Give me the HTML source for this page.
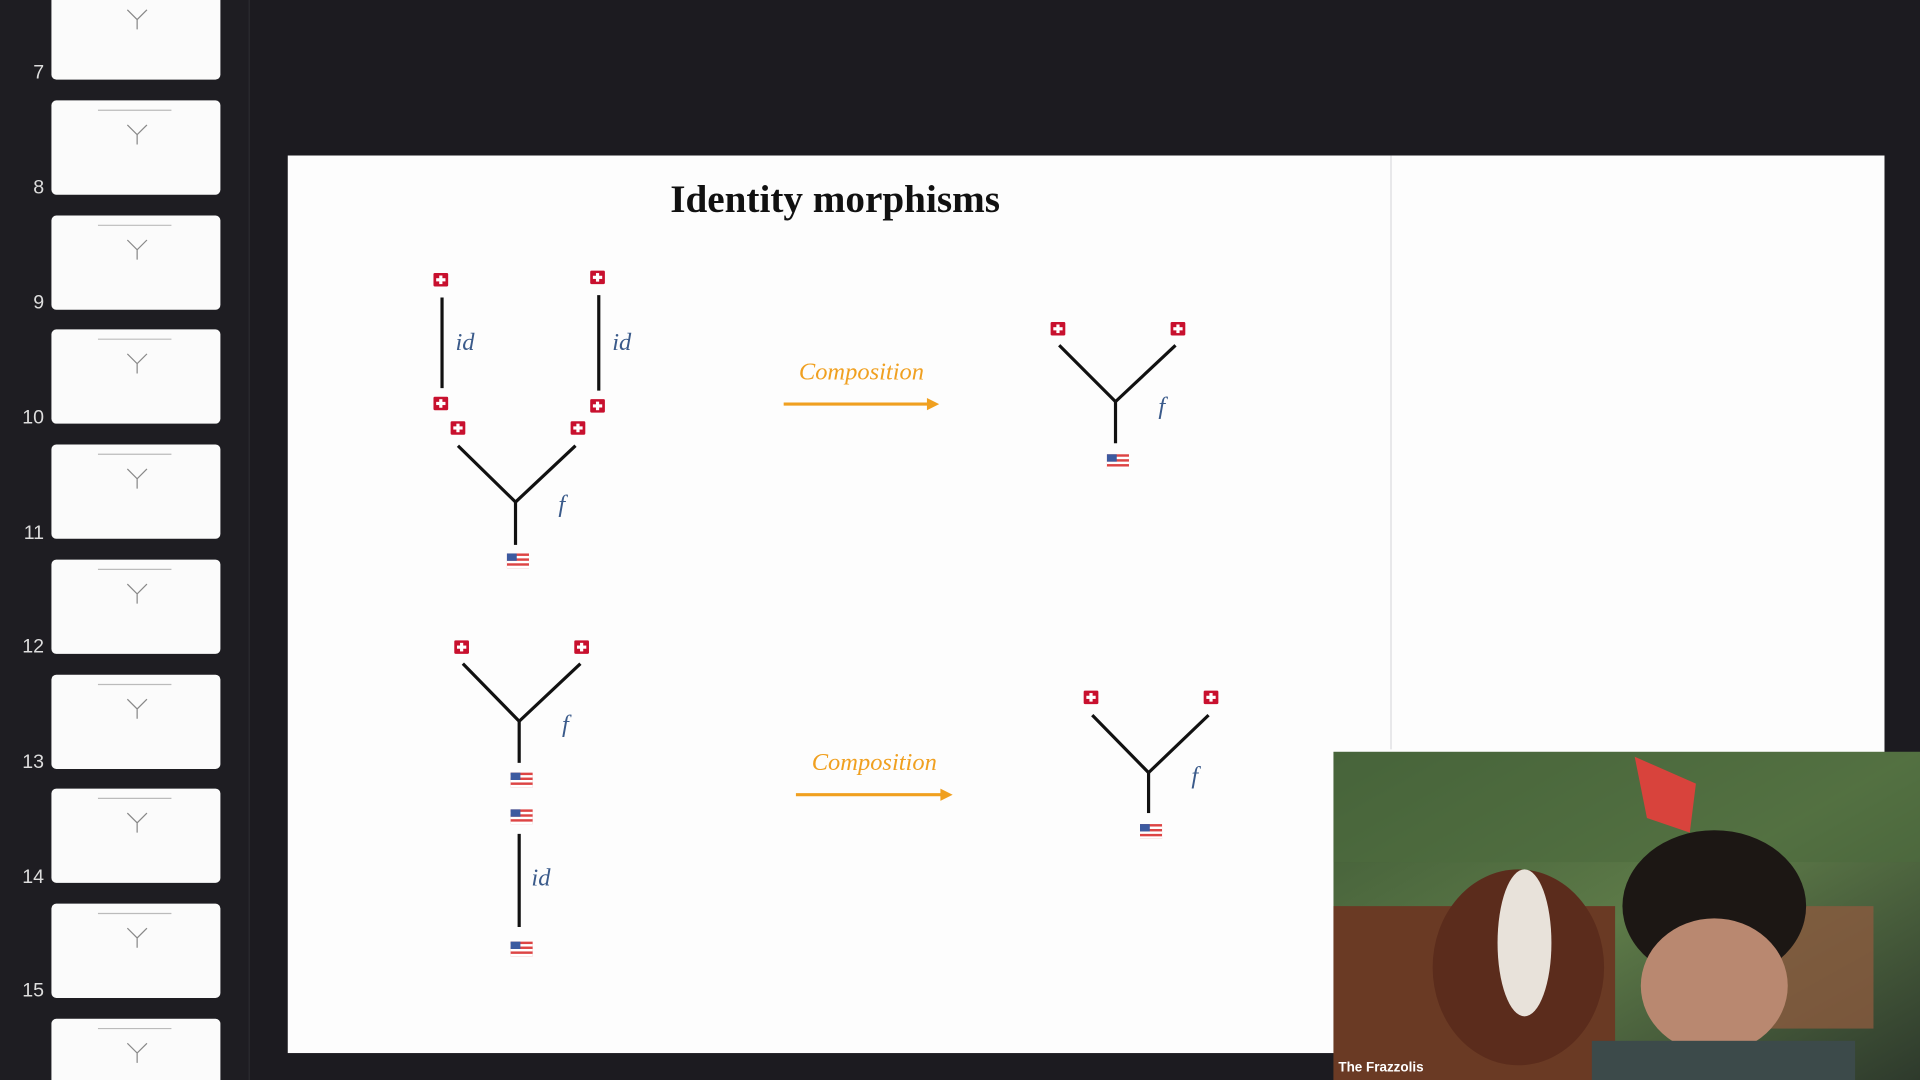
<!DOCTYPE html>
<html><head><meta charset="utf-8"><style>
html,body{margin:0;padding:0;background:#1c1b20;overflow:hidden}
svg{display:block}
</style></head><body>
<svg id="s" width="1920" height="1080" viewBox="0 0 1568 882" xmlns="http://www.w3.org/2000/svg">
<defs>
<linearGradient id="cam" x1="0" y1="0" x2="1" y2="1">
<stop offset="0" stop-color="#3f5a36"/><stop offset="0.5" stop-color="#5d7a48"/><stop offset="1" stop-color="#2e3a2c"/>
</linearGradient>
</defs>
<rect x="0" y="0" width="1568" height="882" fill="#1c1b20"/>
<rect x="0" y="0" width="203" height="882" fill="#1e1d22"/>
<line x1="203.5" y1="0" x2="203.5" y2="882" stroke="#2c2b30" stroke-width="1"/>
<g id="thumbs"></g>
<rect x="235" y="127" width="1304" height="733" fill="#fdfdfd"/>
<line x1="1136" y1="127" x2="1136" y2="612" stroke="#e6e6e8" stroke-width="1.5"/>
<text x="682" y="173" text-anchor="middle" font-family="Liberation Serif, serif" font-weight="bold" font-size="32" fill="#111">Identity morphisms</text>
<g id="diag"></g>
<g>
<rect x="1089" y="614" width="479" height="268" fill="url(#cam)"/>
<rect x="1089" y="614" width="479" height="90" fill="#4c6a3e" opacity="0.6"/>
<polygon points="1335,618 1385,640 1380,680 1345,668" fill="#d8433c"/>
<rect x="1089" y="740" width="230" height="142" fill="#6a3a24"/>
<ellipse cx="1240" cy="790" rx="70" ry="80" fill="#5b2c1c"/>
<ellipse cx="1245" cy="770" rx="22" ry="60" fill="#e8e2da"/>
<rect x="1420" y="740" width="110" height="100" fill="#8a5a3e" opacity="0.8"/>
<ellipse cx="1400" cy="740" rx="75" ry="62" fill="#1c1714"/>
<ellipse cx="1400" cy="805" rx="60" ry="55" fill="#b98870"/>
<rect x="1300" y="850" width="215" height="32" fill="#3c4a4a"/>
<text x="1093" y="875" font-family="Liberation Sans, sans-serif" font-size="11" font-weight="bold" fill="#fff">The Frazzolis</text>
</g>
<script>
const NS='http://www.w3.org/2000/svg';
function mk(p,t,a){const e=document.createElementNS(NS,t);for(const k in a)e.setAttribute(k,a[k]);p.appendChild(e);return e;}
const thumbTops=[-12,82,176,269,363,457,551,644,738,832];
const tg=document.getElementById('thumbs');
thumbTops.forEach((y,i)=>{
 const r=mk(tg,'rect',{x:42,y:y,width:138,height:77,rx:4,fill:'#fbfbfb'});
 
 
 mk(tg,'line',{x1:80,y1:y+8,x2:140,y2:y+8,stroke:'#bbb','stroke-width':1});
 mk(tg,'path',{d:`M${104} ${y+20} l8 8 l8 -8 M112 ${y+28} v8`,stroke:'#888',fill:'none','stroke-width':1});
});
const nums=['7','8','9','10','11','12','13','14','15'];
nums.forEach((n,i)=>{
 const t=mk(tg,'text',{x:36,y:[64,158,252,346,440,533,627,721,814][i],'text-anchor':'end','font-family':'Liberation Sans, sans-serif','font-size':16,fill:'#ddd'});
 t.textContent=n;
 
 
});
const d=document.getElementById('diag');
function swiss(x,y){const g=mk(d,'g',{});
 mk(g,'rect',{x:x-6,y:y-6,width:12,height:11,fill:'#c8102e',rx:1});
 mk(g,'rect',{x:x-1.3,y:y-4,width:2.6,height:7,fill:'#fff'});
 mk(g,'rect',{x:x-3.8,y:y-1.8,width:7.6,height:2.6,fill:'#fff'});}
function us(x,y){const g=mk(d,'g',{});
 mk(g,'rect',{x:x-9,y:y-6,width:18,height:12,fill:'#d44'});
 for(let i=0;i<3;i++)mk(g,'rect',{x:x-9,y:y-4+i*4,width:18,height:2,fill:'#fff'});
 mk(g,'rect',{x:x-9,y:y-6,width:8,height:6,fill:'#3c5aa0'});}
function line(x1,y1,x2,y2){mk(d,'line',{x1,y1,x2,y2,stroke:'#111','stroke-width':2.6});}
function lbl(x,y,s,c){const t=mk(d,'text',{x,y,'font-family':'Liberation Serif, serif','font-style':'italic','font-size':20,fill:c});t.textContent=s;}
function tree(cx,jy,topY,botY,lx,rx){line(lx,topY,cx,jy);line(rx,topY,cx,jy);line(cx,jy,cx,botY);}
swiss(360,229);line(361,243,361,317);swiss(360,330);lbl(372,286,'id','#3a5a8a');
swiss(488,227);line(489,241,489,319);swiss(488,332);lbl(500,286,'id','#3a5a8a');
swiss(374,350);swiss(472,350);tree(421,410,364,445,374,470);us(423,458);lbl(456,418,'f','#3a5a8a');
swiss(864,269);swiss(962,269);tree(911,328,282,362,865,960);us(913,377);lbl(946,338,'f','#3a5a8a');
swiss(377,529);swiss(475,529);tree(424,589,542,623,378,474);us(426,637);lbl(459,598,'f','#3a5a8a');
us(426,667);line(424,681,424,757);lbl(434,723,'id','#3a5a8a');us(426,775);
swiss(891,570);swiss(989,570);tree(938,631,584,664,892,987);us(940,679);lbl(973,640,'f','#3a5a8a');
function arrow(x1,x2,y,ty){mk(d,'line',{x1,y1:y,x2:x2-8,y2:y,stroke:'#f0a020','stroke-width':2.6});
 mk(d,'polygon',{points:`${x2},${y} ${x2-10},${y-5} ${x2-10},${y+5}`,fill:'#f0a020'});
 const t=mk(d,'text',{x:(x1+x2)/2,y:ty,'text-anchor':'middle','font-family':'Liberation Serif, serif','font-style':'italic','font-size':20,fill:'#f0a020'});t.textContent='Composition';}
arrow(640,767,330,310);arrow(650,778,649,629);
</script>
</svg>
</body></html>
